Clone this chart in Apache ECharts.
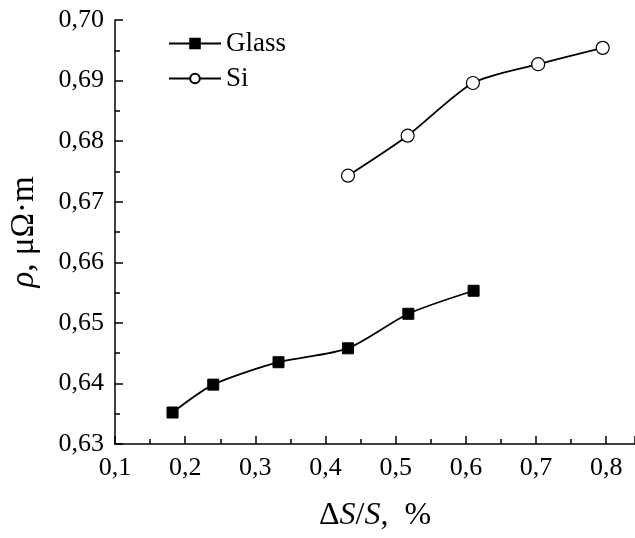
<!DOCTYPE html>
<html>
<head>
<meta charset="utf-8">
<script src="https://cdn.jsdelivr.net/npm/echarts@6/dist/echarts.min.js"></script>
<style>
  html, body { margin: 0; padding: 0; background: #fff; }
  #chart { width: 635px; height: 538px; }
</style>
</head>
<body>
<div id="chart"></div>
<script>
// Glass series
const glassX = [0.182, 0.240, 0.333, 0.432, 0.518, 0.611]
const glassY = [0.6352, 0.6398, 0.6435, 0.6458, 0.6515, 0.6553]
// Si series
const siX = [0.432, 0.517, 0.610, 0.703, 0.795]
const siY = [0.6743, 0.6809, 0.6896, 0.6927, 0.6954]

const font = 'Liberation Serif'
const pairs = (xs, ys) => xs.map((x, i) => [x, ys[i]])
const comma = v => String(v).replace('.', ',')

const chart = echarts.init(document.getElementById('chart'))
const option = {
  animation: false,
  textStyle: { fontFamily: font, color: '#000' },
  grid: { left: 114, right: 0, top: 20, bottom: 94 },
  legend: {
    left: 163,
    top: 25,
    orient: 'vertical',
    itemWidth: 52,
    itemHeight: 12,
    itemGap: 8,
    textStyle: { fontFamily: font, fontSize: 27, color: '#000' },
    data: ['Glass', 'Si']
  },
  xAxis: {
    type: 'value',
    min: 0.1,
    max: 0.841,
    interval: 0.1,
    name: 'Δ{i|S}/{i|S},  %',
    nameLocation: 'middle',
    nameGap: 56,
    nameTextStyle: {
      fontFamily: font,
      fontSize: 32,
      color: '#000',
      rich: { i: { fontFamily: font, fontSize: 32, fontStyle: 'italic', color: '#000' } }
    },
    axisLine: { lineStyle: { color: '#000', width: 1.5 } },
    axisTick: { inside: true, length: 8, lineStyle: { color: '#000', width: 1.5 } },
    minorTick: { show: true, splitNumber: 2, length: 5, lineStyle: { color: '#000', width: 1.5 } },
    splitLine: { show: false },
    axisLabel: {
      fontFamily: font,
      fontSize: 26,
      color: '#000',
      margin: 11,
      showMaxLabel: false,
      formatter: v => comma(Math.round(v * 10) / 10)
    }
  },
  yAxis: {
    type: 'value',
    min: 0.63,
    max: 0.70,
    interval: 0.01,
    name: '{i|ρ}, μΩ·m',
    nameLocation: 'middle',
    nameGap: 74,
    nameTextStyle: {
      fontFamily: font,
      fontSize: 33,
      color: '#000',
      rich: { i: { fontFamily: font, fontSize: 33, fontStyle: 'italic', color: '#000' } }
    },
    axisLine: { show: true, lineStyle: { color: '#000', width: 1.5 } },
    axisTick: { show: true, inside: true, length: 8, lineStyle: { color: '#000', width: 1.5 } },
    minorTick: { show: true, splitNumber: 2, length: 5, lineStyle: { color: '#000', width: 1.5 } },
    splitLine: { show: false },
    axisLabel: {
      fontFamily: font,
      fontSize: 26,
      color: '#000',
      margin: 11,
      formatter: v => comma((Math.round(v * 100) / 100).toFixed(2))
    }
  },
  series: [
    {
      name: 'Glass',
      type: 'line',
      data: pairs(glassX, glassY),
      smooth: 0.25,
      symbol: 'rect',
      symbolSize: 11,
      itemStyle: { color: '#000', borderColor: '#000', borderWidth: 1 },
      lineStyle: { color: '#000', width: 1.8 }
    },
    {
      name: 'Si',
      type: 'line',
      data: pairs(siX, siY),
      smooth: 0.25,
      symbol: 'circle',
      symbolSize: 13,
      itemStyle: { color: '#fff', borderColor: '#000', borderWidth: 1.2 },
      lineStyle: { color: '#000', width: 1.8 }
    }
  ]
}
chart.setOption(option)
</script>
</body>
</html>
